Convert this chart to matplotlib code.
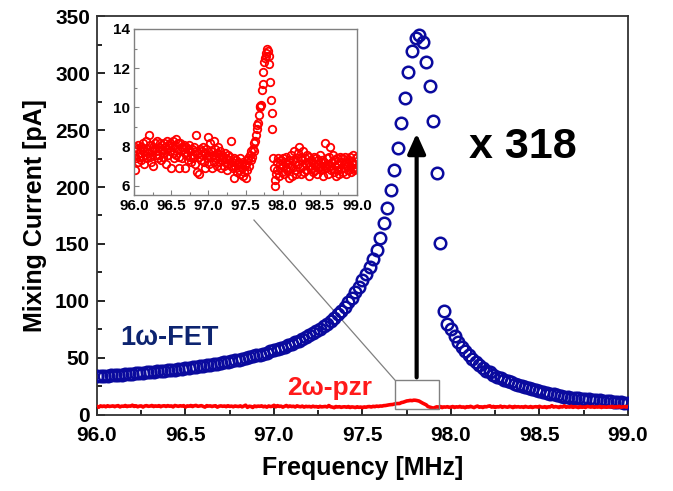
import numpy as np
import matplotlib
matplotlib.use('Agg')
import matplotlib.pyplot as plt
from matplotlib.patches import Rectangle
from matplotlib.ticker import MultipleLocator, FormatStrFormatter

plt.rcParams['font.family'] = ['Liberation Sans', 'DejaVu Sans']
plt.rcParams['font.weight'] = 'bold'

# 1w-FET mixing current [pA], sweep 96.00 -> 99.00 MHz, step 0.02
fet_current = [
    33.9, 34.2, 34.4, 34.6, 34.8, 35.0, 35.3, 35.5, 35.7, 36.0,
    36.2, 36.5, 36.8, 37.0, 37.3, 37.6, 37.9, 38.2, 38.5, 38.9,
    39.2, 39.5, 39.9, 40.3, 40.6, 41.0, 41.4, 41.8, 42.2, 42.7,
    43.1, 43.6, 44.1, 44.6, 45.1, 45.6, 46.2, 46.7, 47.3, 47.9,
    48.6, 49.2, 49.9, 50.7, 51.4, 52.2, 53.0, 53.8, 54.7, 55.7,
    56.7, 57.7, 58.8, 59.9, 61.1, 62.4, 63.7, 65.2, 66.6, 68.2,
    69.9, 71.6, 73.6, 75.7, 77.8, 80.2, 82.7, 85.4, 88.4, 91.6,
    95.1, 98.9, 103.0, 107.6, 112.7, 118.0, 123.5, 129.5, 136.5, 145.0,
    155.5, 168.0, 181.5, 197.0, 214.5, 234.0, 256.0, 278.5, 300.5, 319.5,
    330.5, 333.0, 327.0, 310.0, 289.0, 258.0, 212.0, 151.0,
    91.0, 80.0, 75.0, 69.0, 64.0, 60.0, 56.5, 53.0, 49.0, 46.5,
    43.5, 41.0, 39.0, 37.5, 35.5, 33.6, 32.3, 31.0, 29.8, 28.6,
    27.5, 26.5, 25.5, 24.5, 23.6, 22.7, 21.8, 21.0, 20.2, 19.4,
    18.7, 18.0, 17.4, 16.8, 16.2, 15.7, 15.3, 14.9, 14.6, 14.3,
    14.0, 13.7, 13.4, 13.1, 12.8, 12.5, 12.2, 11.9, 11.6, 11.3,
    11.0, 10.7, 10.4,
]

# 2w-pzr mixing current [pA], sweep 96.00 -> 99.00 MHz, step 0.01
pzr_current = [
    7.6, 6.8, 8.0, 7.4, 7.9, 7.2, 8.1, 7.5, 7.7, 8.0,
    7.3, 7.9, 8.2, 7.1, 7.8, 7.6, 8.3, 7.4, 7.9, 7.7,
    8.6, 7.5, 8.1, 7.2, 7.8, 8.0, 7.0, 7.9, 8.2, 7.6,
    7.8, 8.3, 7.4, 8.0, 7.6, 8.2, 7.3, 7.9, 8.1, 7.5,
    8.2, 7.7, 8.0, 7.1, 8.3, 7.9, 7.6, 8.1, 7.8, 8.2,
    6.9, 8.0, 7.7, 8.3, 7.4, 8.1, 8.4, 7.6, 7.9, 8.2,
    7.5, 6.9, 8.2, 7.8, 8.0, 7.4, 7.9, 8.1, 6.9, 7.7,
    8.0, 7.6, 7.9, 7.3, 8.1, 7.5, 7.8, 7.2, 7.9, 7.6,
    7.4, 8.0, 7.1, 7.8, 8.6, 6.7, 7.7, 7.5, 6.6, 7.9,
    7.3, 7.8, 7.6, 8.0, 7.2, 7.7, 6.9, 7.9, 7.4, 7.6,
    8.5, 7.1, 8.2, 7.5, 7.8, 6.9, 7.6, 8.3, 7.2, 7.9,
    7.4, 7.7, 7.0, 8.0, 7.5, 7.2, 7.8, 6.9, 7.6, 7.3,
    7.5, 7.0, 7.7, 7.2, 7.4, 6.8, 7.6, 7.1, 7.3, 7.5,
    7.0, 8.3, 7.2, 6.9, 6.4, 7.4, 7.0, 7.3, 6.7, 7.1,
    7.2, 6.8, 7.4, 6.6, 7.1, 6.9, 6.5, 7.2, 6.7, 7.0,
    6.4, 7.1, 6.8, 7.3, 7.4, 7.0, 7.6, 7.3, 7.8, 7.5,
    7.9, 7.8, 8.2, 8.3, 8.6, 8.9, 9.1, 9.2, 9.6, 10.0,
    10.05, 10.1, 10.9, 11.2, 11.8, 12.3, 12.5, 12.8, 12.6, 13.0,
    12.9, 12.6, 12.2, 11.3, 10.4, 9.7, 8.9, 7.4, 6.9, 6.3,
    6.0, 6.6, 7.2, 6.8, 7.4, 6.5, 7.1, 6.9, 7.3, 6.7,
    7.0, 7.4, 6.6, 7.2, 6.9, 7.5, 6.8, 7.1, 6.4, 7.3,
    6.9, 7.6, 7.0, 6.5, 7.3, 7.8, 6.8, 7.2, 6.6, 7.4,
    7.1, 7.7, 8.0, 6.9, 7.5, 6.6, 7.3, 7.0, 7.8, 6.7,
    7.4, 7.1, 6.8, 7.6, 7.2, 6.5, 7.5, 7.0, 7.3, 6.9,
    7.2, 6.7, 7.5, 7.0, 6.8, 7.4, 6.6, 7.1, 7.3, 6.9,
    7.6, 7.0, 6.8, 7.3, 6.5, 7.2, 7.0, 8.2, 6.9, 7.4,
    7.1, 6.6, 7.5, 7.0, 8.0, 6.8, 7.2, 6.9, 7.6, 6.7,
    7.3, 7.0, 6.5, 7.4, 6.8, 7.1, 6.6, 7.5, 7.2, 6.9,
    7.4, 6.7, 7.1, 6.9, 7.5, 6.6, 7.2, 7.0, 6.8, 7.3,
    7.0, 7.5, 6.7, 7.2, 6.9, 7.6, 6.8, 7.1, 7.4, 6.9,
    7.5,
]

fet_freq = np.linspace(96.0, 99.0, len(fet_current))
pzr_freq = np.linspace(96.0, 99.0, len(pzr_current))

freq_ticks = [96.0, 96.5, 97.0, 97.5, 98.0, 98.5, 99.0]

BLUE = '#0a0a9e'
RED = '#ff0000'
GRAY = '#808080'

fig = plt.figure(figsize=(6.73, 4.91), dpi=100)
ax = fig.add_axes([0.1441, 0.1548, 0.7890, 0.8126])

ax.plot(fet_freq, fet_current, 'o', ms=8.3, mfc='none', mec=BLUE, mew=1.8, zorder=3)
ax.plot(pzr_freq, pzr_current, '-', color=RED, lw=2.6, zorder=4)

ax.set_xlim(96.0, 99.0)
ax.set_ylim(0, 350)
ax.set_xticks(freq_ticks)
ax.xaxis.set_major_formatter(FormatStrFormatter('%.1f'))
ax.xaxis.set_minor_locator(MultipleLocator(0.25))
ax.yaxis.set_major_locator(MultipleLocator(50))
ax.yaxis.set_minor_locator(MultipleLocator(25))
ax.tick_params(which='both', direction='in', top=False, right=False, width=1.2)
ax.tick_params(which='major', length=6, labelsize=15)
ax.tick_params(axis='x', which='major', pad=8)
ax.tick_params(axis='y', which='major', pad=5)
ax.tick_params(which='minor', length=3.5)
for lab in ax.get_xticklabels() + ax.get_yticklabels():
    lab.set_fontweight('bold')
for s in ax.spines.values():
    s.set_linewidth(1.3)
    s.set_color('#333333')

ax.set_xlabel('Frequency [MHz]', fontsize=18, fontweight='bold', labelpad=8)
ax.set_ylabel('Mixing Current [pA]', fontsize=18, fontweight='bold', labelpad=6)

# zoom box + leader line
ax.add_patch(Rectangle((97.683, 5.3), 0.247, 25.4, fill=False, ec=GRAY, lw=1.0, zorder=5))
ax.plot([96.887, 97.683], [171, 30.7], color=GRAY, lw=0.9, zorder=2)

# arrow and labels
ax.annotate('', xy=(97.806, 247), xytext=(97.806, 33),
            arrowprops=dict(arrowstyle='-|>,head_length=0.6,head_width=0.27',
                            lw=3, color='black', mutation_scale=20,
                            shrinkA=0, shrinkB=0), zorder=6)
ax.text(98.407, 235, 'x 318', fontsize=31, fontweight='bold', ha='center', va='center')
ax.text(96.407, 67.5, '1\u03c9-FET', fontsize=19.5, fontweight='bold', color='#0d2470',
        ha='center', va='center')
ax.text(97.316, 23.7, '2\u03c9-pzr', fontsize=19, fontweight='bold', color='#ff1a1a',
        ha='center', va='center')

# inset
ins = fig.add_axes([0.1991, 0.6029, 0.3314, 0.3381])
ins.plot(pzr_freq, pzr_current, 'o', ms=5.4, mfc='none', mec=RED, mew=1.3)
ins.set_xlim(96.0, 99.0)
ins.set_ylim(5.54, 14.0)
ins.set_xticks(freq_ticks)
ins.xaxis.set_major_formatter(FormatStrFormatter('%.1f'))
ins.xaxis.set_minor_locator(MultipleLocator(0.25))
ins.yaxis.set_major_locator(MultipleLocator(2))
ins.yaxis.set_minor_locator(MultipleLocator(1))
ins.tick_params(which='both', direction='in', color=GRAY, width=0.8)
ins.tick_params(which='major', length=3.5, labelsize=11, pad=3)
ins.tick_params(which='minor', length=2)
for lab in ins.get_xticklabels() + ins.get_yticklabels():
    lab.set_fontweight('bold')
for s in ins.spines.values():
    s.set_color(GRAY)
    s.set_linewidth(1.0)

fig.savefig('out.png', dpi=100)
